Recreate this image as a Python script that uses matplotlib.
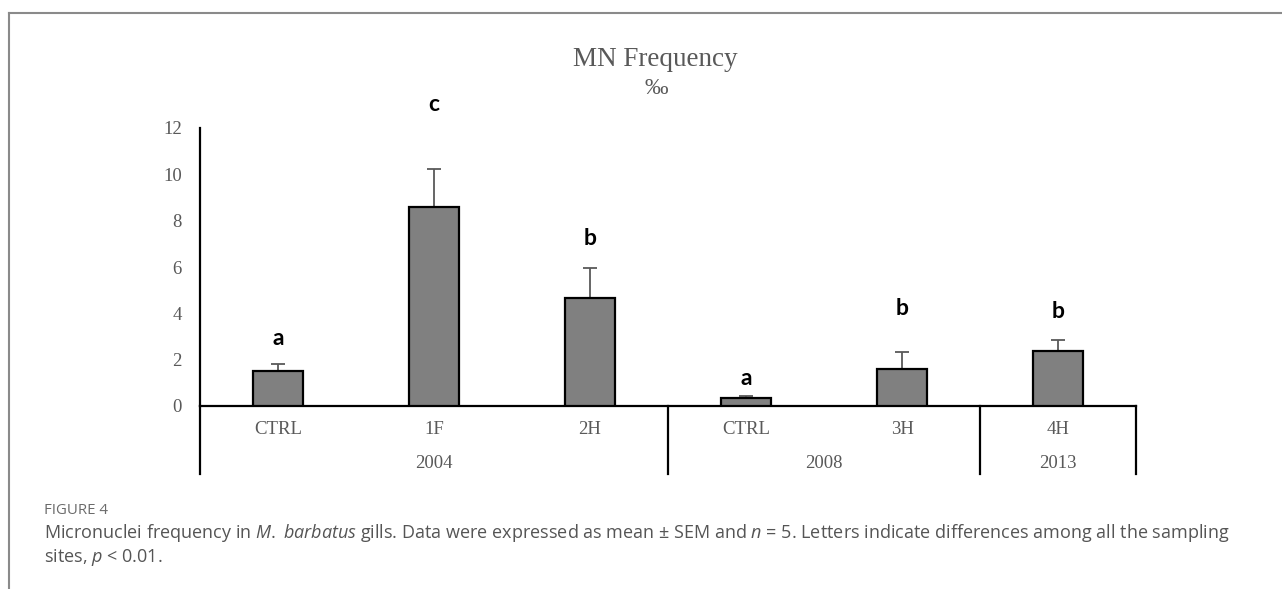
import numpy as np
import matplotlib
matplotlib.use("Agg")
from matplotlib import pyplot as plt
from matplotlib.lines import Line2D
from matplotlib import transforms

plt.rcParams['mathtext.fontset'] = 'custom'
plt.rcParams['mathtext.rm'] = 'Open Sans'
plt.rcParams['mathtext.it'] = 'Open Sans:italic'

# data
sites = ['CTRL', '1F', '2H', 'CTRL', '3H', '4H']
years = ['2004', '2008', '2013']
year_span = [(0, 2), (3, 4), (5, 5)]
mn_mean = [1.51, 8.59, 4.66, 0.33, 1.60, 2.39]
mn_sem = [0.30, 1.64, 1.30, 0.12, 0.72, 0.45]
letters = ['a', 'c', 'b', 'a', 'b', 'b']
letter_y = [2.93, 13.0, 7.25, 1.17, 4.23, 4.10]
yticks = [0, 2, 4, 6, 8, 10, 12]

W, H = 1282, 589
fig = plt.figure(figsize=(W / 100, H / 100), dpi=100)

def px(x, y):
  return x / W, 1 - y / H

# panel frame
fig.add_artist(Line2D([px(9, 0)[0], 1], [px(0, 13)[1]] * 2, color='#8a8a8a', lw=1.5))
fig.add_artist(Line2D([px(9, 0)[0]] * 2, [px(0, 13)[1], 0], color='#8a8a8a', lw=1.5))

ax = fig.add_axes([200 / W, 1 - 406 / H, 936 / W, 278 / H])
x = np.arange(len(sites))
ax.bar(x, mn_mean, width=0.32, color='#808080', edgecolor='black', linewidth=1.6, zorder=3)
ax.errorbar(x, mn_mean, yerr=[np.zeros(len(x)), mn_sem], fmt='none',
            ecolor='#595959', elinewidth=1.3, capsize=5, capthick=1.3, zorder=2)
ax.set_xlim(-0.5, 5.5)
ax.set_ylim(0, 12)
ax.set_yticks(yticks)
ax.set_yticklabels([str(t) for t in yticks], fontfamily='Liberation Serif',
                   fontsize=13.5, color='#595959')
ax.tick_params(axis='y', length=0, pad=13)
ax.set_xticks([])
for s in ['top', 'right']:
  ax.spines[s].set_visible(False)
ax.spines['bottom'].set_linewidth(1.6)
ax.spines['left'].set_linewidth(1.6)
ax.spines['left'].set_bounds(0, 12)

low = (406 - 474) / 278
trans = transforms.blended_transform_factory(ax.transData, ax.transAxes)
for b in [-0.5, 2.5, 4.5, 5.5]:
  ax.plot([b, b], [0, low], transform=trans, color='black', lw=1.6, clip_on=False)

for i, s in enumerate(sites):
  ax.text(i, (406 - 430) / 278, s, transform=trans, ha='center', va='center',
          fontfamily='Liberation Serif', fontsize=13.5, color='#595959')
for yr, (a, b) in zip(years, year_span):
  ax.text((a + b) / 2, (406 - 463) / 278, yr, transform=trans, ha='center', va='center',
          fontfamily='Liberation Serif', fontsize=13.5, color='#595959')

for i, (l, ly) in enumerate(zip(letters, letter_y)):
  ax.text(i, ly, l, ha='center', va='center', fontfamily='Lato', fontweight='bold',
          fontsize=16.5, color='black', clip_on=False)

fig.text(*px(655, 59), 'MN Frequency', ha='center', va='center',
         fontfamily='Liberation Serif', fontsize=19.5, color='#595959')
fig.text(*px(656, 88), '‰', ha='center', va='center',
         fontfamily='Liberation Serif', fontsize=17, color='#595959')

fig.text(*px(44, 510), 'FIGURE 4', ha='left', va='center',
         fontfamily='Open Sans', fontsize=10.8, color='#6b6b6b')
fig.text(*px(44, 533),
         r'Micronuclei frequency in $\mathit{M.}$ $\mathit{barbatus}$ gills. Data were expressed as mean ± SEM and $\mathit{n}$ = 5. Letters indicate differences among all the sampling',
         ha='left', va='center', fontfamily='Open Sans', fontsize=13, color='#555555')
fig.text(*px(44, 557), r'sites, $\mathit{p}$ < 0.01.', ha='left', va='center',
         fontfamily='Open Sans', fontsize=13, color='#555555')

fig.savefig('out.png', dpi=100)
